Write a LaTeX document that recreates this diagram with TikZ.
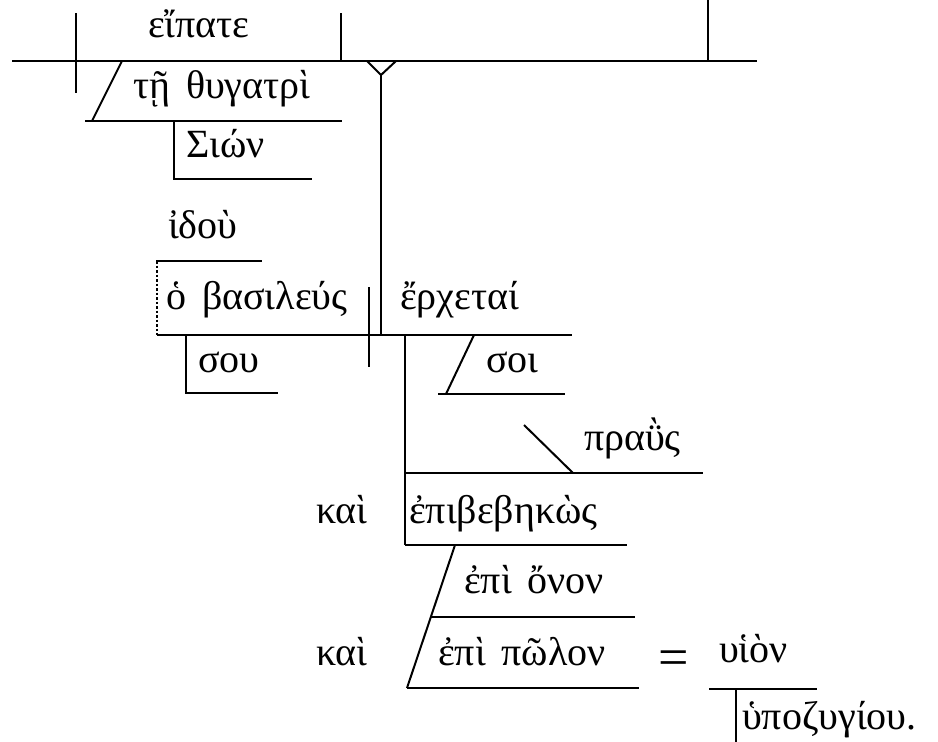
\documentclass[tikz,border=0pt]{standalone}
\usepackage{fontspec}
\setmainfont{Liberation Serif}[WordSpace=1.6]
\newcommand\grfont{\fontsize{40}{46}\selectfont}
\begin{document}
\begin{tikzpicture}[x=1pt,y=-1pt,line width=2pt,line cap=butt,
  word/.style={anchor=base west,inner sep=0pt,font=\grfont},
  dotline/.style={dash pattern=on 2.5pt off 2pt}]
\useasboundingbox (0,0) rectangle (938,742);
% words
\node[word] (eipate) at (147,37) {εἴπατε};
\node[word] (te) at (132,98) {τῇ θυγατρὶ};
\node[word] (sion) at (185,157) {Σιών};
\node[word] (idou) at (167,238) {ἰδοὺ};
\node[word] (basileus) at (165,309) {ὁ βασιλεύς};
\node[word] (sou) at (197,372) {σου};
\node[word] (erchetai) at (399,309) {ἔρχεταί};
\node[word] (soi) at (485,372) {σοι};
\node[word] (praus) at (583,450) {πραῢς};
\node[word] (kai1) at (315,523) {καὶ};
\node[word] (epib) at (408,523) {ἐπιβεβηκὼς};
\node[word] (onon) at (463,593) {ἐπὶ ὄνον};
\node[word] (kai2) at (315,665) {καὶ};
\node[word] (polon) at (437,665) {ἐπὶ πῶλον};
\node[anchor=center,inner sep=0pt,font=\fontsize{54}{60}\selectfont] (eq) at (674,663) {=};
\node[word] (huion) at (718,662) {υἱὸν};
\node[word] (hupo) at (741,729) {ὑποζυγίου.};
% main clause
\draw (12,61) -- (757,61);
\draw (76,13) -- (76,93);
\draw (341,13) -- (341,61);
\draw (708,0) -- (708,61);
\draw (367,61) -- (381,75) -- (396,61);
\draw (381,75) -- (381,335);
\draw (122,61) -- (92,121);
\draw (85,121) -- (342,121);
\draw (174,121) -- (174,179) -- (312,179);
% second clause
\draw (156,261) -- (262,261);
\draw[dotline] (157,261) -- (157,335);
\draw (157,335) -- (572,335);
\draw (369,287) -- (369,367);
\draw (186,335) -- (186,393) -- (278,393);
\draw (405,335) -- (405,545);
\draw (474,335) -- (446,394);
\draw (438,394) -- (565,394);
\draw (524,425) -- (573,473);
\draw (405,473) -- (703,473);
\draw (405,545) -- (627,545);
\draw (455,545) -- (407,688);
\draw (431,617) -- (635,617);
\draw (407,688) -- (639,688);
\draw (709,689) -- (817,689);
\draw (736,689) -- (736,742);
\end{tikzpicture}
\end{document}
